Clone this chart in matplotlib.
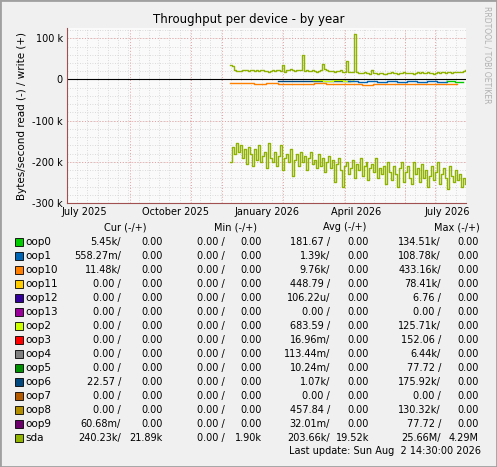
import matplotlib
matplotlib.use("Agg")
import matplotlib.pyplot as plt
import numpy as np

W, H = 497, 467
# x axis: days since 2025-07-01
tick_days = [0, 92, 184, 274, 365]
tick_labels = ["July 2025", "October 2025", "January 2026", "April 2026", "July 2026"]

# sda write (+), sampled every 2 days from day 147
sda_w_start, sda_w_step = 147, 2
sda_write = [36, 33, 22, 20, 21, 20, 22, 23, 22, 21, 23, 22, 21, 22, 20, 23, 22, 21, 20, 19,
             21, 22, 20, 22, 24, 21, 35, 19, 22, 23, 25, 22, 21, 24, 22, 23, 59, 21, 22, 20,
             20, 22, 21, 19, 21, 23, 38, 26, 22, 21, 20, 21, 19, 20, 21, 22, 18, 19, 46, 17,
             18, 17, 110, 17, 16, 15, 16, 17, 15, 15, 14, 24, 15, 16, 14, 15, 16, 13, 14, 15,
             16, 17, 15, 16, 14, 15, 16, 17, 15, 16, 15, 16, 14, 16, 17, 15, 18, 16, 15, 17,
             16, 15, 14, 16, 17, 15, 17, 19, 16, 18, 17, 16, 18, 19, 17, 18, 19, 20, 22]
# sda read (-), sampled every 2 days from day 147
sda_r_start, sda_r_step = 147, 2
sda_read = [-200, -165, -180, -155, -175, -160, -190, -170, -205, -165, -180, -210, -170, -195,
            -160, -200, -185, -175, -215, -155, -190, -200, -175, -210, -185, -160, -220, -190,
            -180, -200, -170, -235, -195, -180, -210, -175, -200, -185, -220, -190, -175, -205,
            -195, -215, -180, -210, -190, -225, -200, -185, -215, -195, -250, -205, -190, -220,
            -260, -210, -200, -230, -215, -195, -240, -205, -220, -190, -235, -210, -200, -245,
            -215, -205, -225, -190, -240, -215, -230, -210, -255, -200, -225, -245, -210, -230,
            -260, -215, -200, -250, -225, -210, -240, -255, -200, -230, -215, -250, -205, -240,
            -220, -260, -235, -210, -245, -225, -200, -255, -230, -215, -240, -265, -210, -235,
            -250, -220, -245, -230, -260, -240, -255]
oop10_read = [-9, -9, -10, -9, -10, -12, -10, -9, -11, -10, -10, -14, -11, -10, -10, -11, -10, -12, -11, -10]
oop10_start, oop10_step = 147, 12
oop1_read = [-4, -5, -4, -6, -4, -5, -4, -6, -4, -5, -3]
oop1_start, oop1_step = 265, 10
oop6_read = [-3, -3, -4, -3, -3, -4, -3]
oop6_start, oop6_step = 195, 12
oop2_read = [-2, -3, -2, -3, -2]
oop2_start, oop2_step = 230, 10
oop0_read = [-3, -5, -6]
oop0_start, oop0_step = 365, 8

names = ["oop0", "oop1", "oop10", "oop11", "oop12", "oop13", "oop2", "oop3", "oop4", "oop5",
         "oop6", "oop7", "oop8", "oop9", "sda"]
colors = ["#00CC00", "#0066B3", "#FF8000", "#FFCC00", "#330099", "#990099", "#CCFF00", "#FF0000",
          "#808080", "#008F00", "#00487D", "#B35A00", "#B38F00", "#6B006B", "#8FB300"]
cur = [("5.45k/", "0.00"), ("558.27m/", "0.00"), ("11.48k/", "0.00"), ("0.00 /", "0.00"),
       ("0.00 /", "0.00"), ("0.00 /", "0.00"), ("0.00 /", "0.00"), ("0.00 /", "0.00"),
       ("0.00 /", "0.00"), ("0.00 /", "0.00"), ("22.57 /", "0.00"), ("0.00 /", "0.00"),
       ("0.00 /", "0.00"), ("60.68m/", "0.00"), ("240.23k/", "21.89k")]
mins = [("0.00 /", "0.00")] * 14 + [("0.00 /", "1.90k")]
avgs = [("181.67 /", "0.00"), ("1.39k/", "0.00"), ("9.76k/", "0.00"), ("448.79 /", "0.00"),
        ("106.22u/", "0.00"), ("0.00 /", "0.00"), ("683.59 /", "0.00"), ("16.96m/", "0.00"),
        ("113.44m/", "0.00"), ("10.24m/", "0.00"), ("1.07k/", "0.00"), ("0.00 /", "0.00"),
        ("457.84 /", "0.00"), ("32.01m/", "0.00"), ("203.66k/", "19.52k")]
maxs = [("134.51k/", "0.00"), ("108.78k/", "0.00"), ("433.16k/", "0.00"), ("78.41k/", "0.00"),
        ("6.76 /", "0.00"), ("0.00 /", "0.00"), ("125.71k/", "0.00"), ("152.06 /", "0.00"),
        ("6.44k/", "0.00"), ("77.72 /", "0.00"), ("175.92k/", "0.00"), ("0.00 /", "0.00"),
        ("130.32k/", "0.00"), ("77.72 /", "0.00"), ("25.66M/", "4.29M")]

fig = plt.figure(figsize=(W / 100, H / 100), dpi=100)
fig.patch.set_facecolor("#F0F0F0")
fig.add_artist(plt.Rectangle((0, 0), 1, 1, transform=fig.transFigure, fill=False,
                             edgecolor="#A0A0A0", linewidth=2))

def fx(px): return px / W
def fy(py): return 1 - py / H

ax = fig.add_axes([fx(67), fy(203), fx(466) - fx(67), fy(28) - fy(203)])
ax.set_facecolor("#FAFAFA")
xmin, xmax = -17, 384
ax.set_xlim(xmin, xmax)
ax.set_ylim(-300, 125)

for d in np.arange(xmin, xmax, 10.3):
    ax.axvline(d, color="#D0D0D0", lw=0.6, ls=(0, (1, 2)), zorder=0)
for y in np.arange(-300, 125, 20):
    ax.axhline(y, color="#D0D0D0", lw=0.6, ls=(0, (1, 2)), zorder=0)
for d in [-17, 46, 108, 139, 200, 262, 323, 353]:
    ax.axvline(d, color="#E8A0A0", lw=0.7, ls=(0, (1, 2)), zorder=0)
for y in [-300, -200, -100, 0, 100]:
    ax.axhline(y, color="#E8A0A0", lw=0.7, ls=(0, (1, 2)), zorder=0)

def plot_series(start, step, vals, color, lw=1.0):
    xs = start + step * np.arange(len(vals))
    ax.step(xs, vals, where="post", color=color, lw=lw)

plot_series(oop10_start, oop10_step, oop10_read, colors[2])
plot_series(oop6_start, oop6_step, oop6_read, colors[10])
plot_series(oop2_start, oop2_step, oop2_read, colors[6])
plot_series(oop1_start, oop1_step, oop1_read, colors[1])
plot_series(oop0_start, oop0_step, oop0_read, colors[0])
plot_series(sda_w_start, sda_w_step, sda_write, colors[14])
plot_series(sda_r_start, sda_r_step, sda_read, colors[14])
ax.axhline(0, color="black", lw=0.8)

ax.set_xticks(tick_days)
ax.set_xticklabels(tick_labels, fontsize=7)
ax.set_yticks([-300, -200, -100, 0, 100])
ax.set_yticklabels(["-300 k", "-200 k", "-100 k", "0", "100 k"], fontsize=7)
ax.tick_params(length=0, pad=3)
for s in ["top", "right"]:
    ax.spines[s].set_visible(False)
ax.spines["left"].set_color("#A05050")
ax.spines["bottom"].set_color("#A05050")
ax.set_ylabel("Bytes/second read (-) / write (+)", fontsize=7.5)

fig.text(0.5, fy(20), "Throughput per device - by year", ha="center", va="center", fontsize=8.5)
fig.text(fx(487), fy(55), "RRDTOOL / TOBI OETIKER", rotation=270, ha="center", va="center",
         fontsize=5.5, color="#B0B0B0")

fs = 7
for hx, ht in [(125, "Cur (-/+)"), (235, "Min (-/+)"), (345, "Avg (-/+)"), (457, "Max (-/+)")]:
    fig.text(fx(hx), fy(227), ht, ha="center", va="center", fontsize=fs)
cols = [(121, 163), (225, 262), (330, 369), (441, 479)]
for i, n in enumerate(names):
    y = 242 + 14 * i
    fig.add_artist(plt.Rectangle((fx(15), fy(y + 4)), fx(8), fy(y - 4) - fy(y + 4),
                                 transform=fig.transFigure, facecolor=colors[i],
                                 edgecolor="black", lw=0.6))
    fig.text(fx(25), fy(y), n, ha="left", va="center", fontsize=7.5)
    for (c1, c2), vals in zip(cols, [cur[i], mins[i], avgs[i], maxs[i]]):
        fig.text(fx(c1), fy(y), vals[0], ha="right", va="center", fontsize=fs)
        fig.text(fx(c2), fy(y), vals[1], ha="right", va="center", fontsize=fs)
fig.text(fx(481), fy(451), "Last update: Sun Aug  2 14:30:00 2026", ha="right", va="center", fontsize=fs)

fig.savefig("out.png", dpi=100, facecolor=fig.get_facecolor())
